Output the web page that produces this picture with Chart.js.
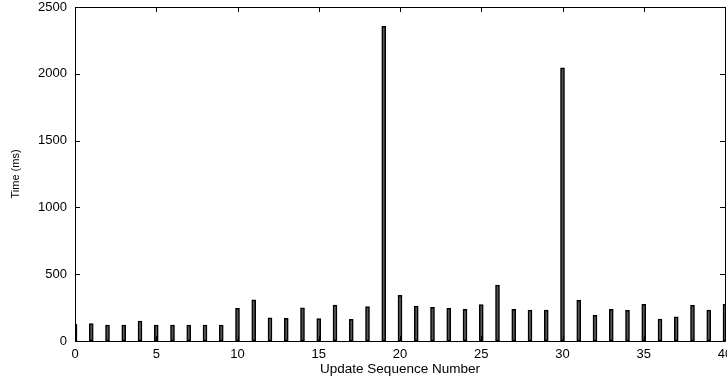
<!DOCTYPE html>
<html><head><meta charset="utf-8">
<script src="https://cdn.jsdelivr.net/npm/chart.js@4/dist/chart.umd.min.js"></script>
<style>html,body{margin:0;padding:0;background:#fff}#w{width:727px;height:377px}</style>
</head><body><div id="w"><canvas id="c"></canvas></div>
<script>
const sequence = [0,1,2,3,4,5,6,7,8,9,10,11,12,13,14,15,16,17,18,19,20,21,22,23,24,25,26,27,28,29,30,31,32,33,34,35,36,37,38,39,40];
const timeMs = [124,130,120,120,150,120,120,120,120,120,244,309,174,169,249,167,269,162,257,2355,342,262,252,245,237,272,419,237,232,232,2045,305,192,237,230,275,165,180,267,232,275];
const xTicks = [0,5,10,15,20,25,30,35,40];
const yTicks = [0,500,1000,1500,2000,2500];
const xTitle = 'Update Sequence Number';
const yTitle = 'Time (ms)';

const FONT = "'Liberation Sans', Arial, sans-serif";
const frame = {
  id: 'frame',
  afterDatasetsDraw(chart) {
    const {ctx, chartArea: a, scales: {x, y}} = chart;
    ctx.save();
    ctx.strokeStyle = '#000';
    ctx.lineWidth = 1;
    ctx.beginPath();
    ctx.rect(Math.round(a.left) + 0.5, Math.round(a.top) + 0.5, Math.round(a.right - a.left), Math.round(a.bottom - a.top));
    ctx.stroke();
    ctx.beginPath();
    for (const v of xTicks) {
      const px = Math.round(x.getPixelForValue(v)) + 0.5;
      ctx.moveTo(px, a.bottom); ctx.lineTo(px, a.bottom - 5);
      ctx.moveTo(px, a.top); ctx.lineTo(px, a.top + 5);
    }
    for (const v of yTicks) {
      const py = Math.round(y.getPixelForValue(v)) + 0.5;
      ctx.moveTo(a.left, py); ctx.lineTo(a.left + 5, py);
      ctx.moveTo(a.right, py); ctx.lineTo(a.right - 5, py);
    }
    ctx.stroke();
    ctx.restore();
  }
};

new Chart(document.getElementById('c'), {
  type: 'bar',
  data: {
    datasets: [{
      data: sequence.map((s, i) => ({x: s, y: timeMs[i]})),
      backgroundColor: '#555',
      borderColor: '#000',
      borderWidth: 1.5,
      barThickness: 4,
      borderSkipped: false
    }]
  },
  options: {
    responsive: true,
    maintainAspectRatio: false,
    animation: false,
    devicePixelRatio: 1,
    layout: {padding: {top: 7, right: 2, left: 0, bottom: 0}},
    plugins: {legend: {display: false}, tooltip: {enabled: false}},
    scales: {
      x: {
        type: 'linear', min: 0, max: 40, offset: false,
        grid: {display: false, drawTicks: false},
        border: {display: false},
        afterBuildTicks(s) { s.ticks = xTicks.map(v => ({value: v})); },
        afterFit(s) { s.height = 36; s.paddingLeft = 0; s.paddingRight = 0; },
        ticks: {color: '#000', padding: 6, maxRotation: 0, autoSkip: false, font: {family: FONT, size: 13}, callback: v => String(v)},
        title: {display: true, text: xTitle, color: '#000', padding: {top: 0, bottom: 0}, font: {family: FONT, size: 13.5}}
      },
      y: {
        min: 0, max: 2500,
        grid: {display: false, drawTicks: false},
        border: {display: false},
        afterBuildTicks(s) { s.ticks = yTicks.map(v => ({value: v})); },
        afterFit(s) { s.width = 75; s.paddingTop = 0; s.paddingBottom = 0; },
        ticks: {color: '#000', padding: 8, font: {family: FONT, size: 13}, callback: v => String(v)},
        title: {display: true, text: yTitle, color: '#000', padding: {top: 9, bottom: 0}, font: {family: FONT, size: 11}}
      }
    }
  },
  plugins: [frame]
});
</script>
</body></html>
